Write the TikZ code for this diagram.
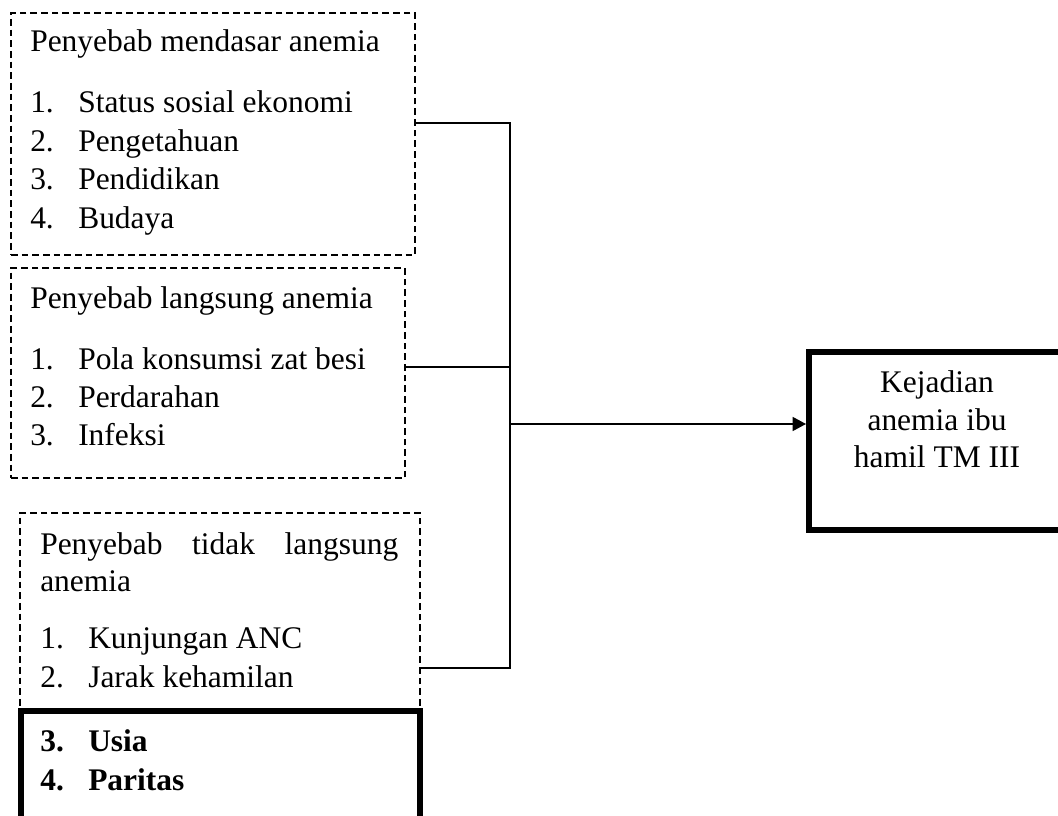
\documentclass[tikz,border=0pt]{standalone}
\usepackage{fontspec}
\setmainfont{Liberation Serif}
\usetikzlibrary{arrows.meta,fit}
\begin{document}
\begin{tikzpicture}[x=0.75pt,y=-0.75pt,
  txt/.style={inner sep=0pt,anchor=base west,font=\fontsize{23.6}{28}\selectfont},
  ctr/.style={inner sep=0pt,anchor=base,font=\fontsize{23.6}{28}\selectfont},
  dbox/.style={draw,dashed,dash pattern=on 5pt off 3pt,line width=1pt,inner sep=0pt},
  tbox/.style={draw,line width=4.5pt,inner sep=0pt},
  conn/.style={draw,line width=1.1pt},
  arr/.style={conn,-{Triangle[length=10pt,width=10.5pt]}}]
\useasboundingbox (0,0) rectangle (1058,816);
\clip (0,0) rectangle (1058,816);
% boxes
\node[dbox,fit={(11,13) (415,255)}] (b1) {};
\node[dbox,fit={(11,268) (405,478)}] (b2) {};
\node[dbox,fit={(20,513) (420,711)}] (b3) {};
\node[tbox,fill=white,fit={(21,711) (420,840)}] (b4) {};
\node[tbox,fit={(809,352) (1080,530)}] (out) {};
% box 1 text
\node[txt] (t1) at (30,52) {Penyebab mendasar anemia};
\node[txt] (n11) at (30,113) {1.}; \node[txt] (i11) at (78,113) {Status sosial ekonomi};
\node[txt] (n12) at (30,151.5) {2.}; \node[txt] (i12) at (78,151.5) {Pengetahuan};
\node[txt] (n13) at (30,190) {3.}; \node[txt] (i13) at (78,190) {Pendidikan};
\node[txt] (n14) at (30,228.5) {4.}; \node[txt] (i14) at (78,228.5) {Budaya};
% box 2 text
\node[txt] (t2) at (30,309) {Penyebab langsung anemia};
\node[txt] (n21) at (30,370) {1.}; \node[txt] (i21) at (78,370) {Pola konsumsi zat besi};
\node[txt] (n22) at (30,408) {2.}; \node[txt] (i22) at (78,408) {Perdarahan};
\node[txt] (n23) at (30,446) {3.}; \node[txt] (i23) at (78,446) {Infeksi};
% box 3 text
\node[txt] (t3a) at (40,555) {\makebox[268.5pt][s]{Penyebab tidak langsung}};
\node[txt] (t3b) at (40,592) {anemia};
\node[txt] (n31) at (40,649) {1.}; \node[txt] (i31) at (88,649) {Kunjungan ANC};
\node[txt] (n32) at (40,687) {2.}; \node[txt] (i32) at (88,687) {Jarak kehamilan};
% box 4 text
\node[txt,font=\fontsize{23.6}{28}\selectfont\bfseries] (n41) at (40,752) {3.};
\node[txt,font=\fontsize{23.6}{28}\selectfont\bfseries] (i41) at (88,752) {Usia};
\node[txt,font=\fontsize{23.6}{28}\selectfont\bfseries] (n42) at (40,790) {4.};
\node[txt,font=\fontsize{23.6}{28}\selectfont\bfseries] (i42) at (88,790) {Paritas};
% outcome text
\node[ctr] (o1) at (937,393) {Kejadian};
\node[ctr] (o2) at (937,430.5) {anemia ibu};
\node[ctr] (o3) at (937,468) {hamil TM III};
% connectors
\coordinate (j1) at (510,123);
\coordinate (j2) at (510,367);
\coordinate (j3) at (510,668);
\coordinate (ja) at (510,424);
\draw[conn] (b1.east |- j1) -- (j1) -- (j3) -- (b3.east |- j3);
\draw[conn] (b2.east |- j2) -- (j2);
\draw[arr] (ja) -- (out.west |- ja);
\end{tikzpicture}
\end{document}
